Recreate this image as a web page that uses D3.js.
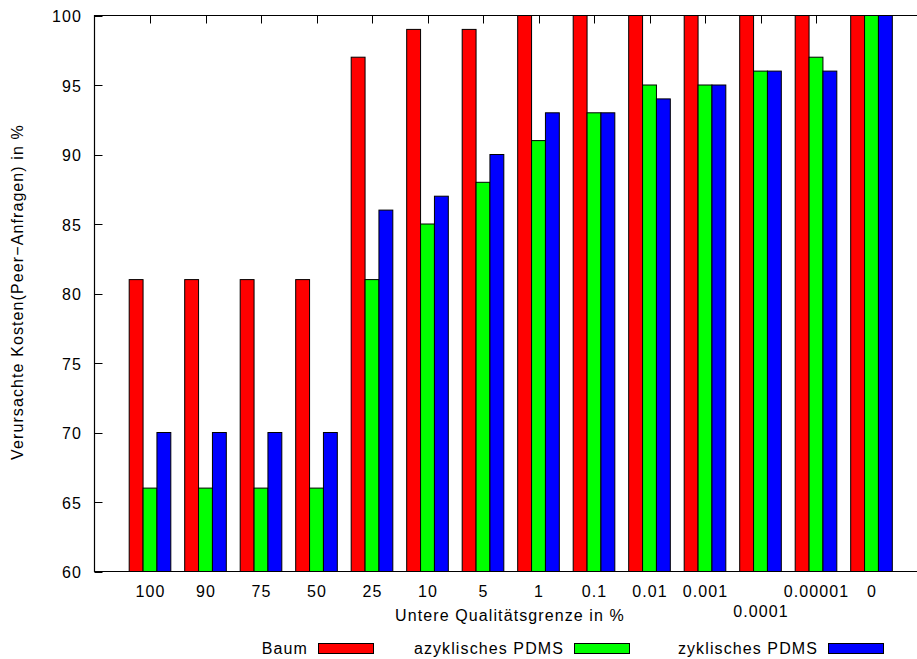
<!DOCTYPE html>
<html>
<head>
<meta charset="utf-8">
<script src="https://d3js.org/d3.v7.min.js"></script>
<style>
  body { margin: 0; background: #fff; }
  svg { display: block; }
  text { font-family: "Liberation Sans", Arial, sans-serif; font-size: 16px; letter-spacing: 1.1px; fill: #000; }
</style>
</head>
<body>
<svg width="917" height="659"></svg>
<script>
// the data
var categories = ["100", "90", "75", "50", "25", "10", "5", "1", "0.1", "0.01", "0.001", "0.0001", "0.00001", "0"];
var baum =        [81, 81, 81, 81, 97, 99, 99, 100, 100, 100, 100, 100, 100, 100];
var azyklisch =   [66, 66, 66, 66, 81, 85, 88, 91, 93, 95, 95, 96, 97, 100];
var zyklisch =    [70, 70, 70, 70, 86, 87, 90, 93, 93, 94, 95, 96, 96, 100];
var seriesNames = ["Baum", "azyklisches PDMS", "zyklisches PDMS"];
var seriesColors = ["#ff0000", "#00ff00", "#0000ff"];
var yTicks = [60, 65, 70, 75, 80, 85, 90, 95, 100];

var series = [baum, azyklisch, zyklisch];

var svg = d3.select("svg");

// plot frame (window.top is taken, so plotTop)
var plotLeft = 94.5, plotTop = 15.5, plotBottom = 571.5;

// x: one unit per category, frame runs from -1 to 14 (right edge is off screen)
var x = d3.scaleLinear().domain([-1, 14]).range([plotLeft, 927]);
var y = d3.scaleLinear().domain([60, 100]).range([plotBottom, plotTop]);

var unit = x(1) - x(0);
var barW = unit / 4; // 3 bars + gap of 1

//////////// TICKS ////////////

var g = svg.append("g");

// y ticks on the left, pointing inward
g.selectAll(".ytick")
  .data(yTicks)
  .enter().append("line")
  .attr("x1", plotLeft).attr("x2", plotLeft + 8)
  .attr("y1", function(d) { return Math.round(y(d)) + 0.5; })
  .attr("y2", function(d) { return Math.round(y(d)) + 0.5; })
  .attr("stroke", "black");

g.selectAll(".ylabel")
  .data(yTicks)
  .enter().append("text")
  .attr("x", 82)
  .attr("y", function(d) { return y(d); })
  .attr("dy", "0.42em")
  .attr("text-anchor", "end")
  .text(function(d) { return d; });

// x ticks at top and bottom (bottom ones get hidden by the bars)
categories.forEach(function(c, i) {
  var cx = Math.round(x(i)) + 0.5;
  g.append("line").attr("x1", cx).attr("x2", cx)
    .attr("y1", plotTop).attr("y2", plotTop + 8).attr("stroke", "black");
  g.append("line").attr("x1", cx).attr("x2", cx)
    .attr("y1", plotBottom).attr("y2", plotBottom - 8).attr("stroke", "black");
});

// x labels, "0.0001" is pushed one line down
g.selectAll(".xlabel")
  .data(categories)
  .enter().append("text")
  .attr("x", function(d, i) { return x(i) + 0.5; })
  .attr("y", function(d) { return d === "0.0001" ? 617 : 597; })
  .attr("text-anchor", "middle")
  .text(function(d) { return d; });

//////////// BARS ////////////

series.forEach(function(vals, k) {
  svg.append("g")
    .selectAll("rect")
    .data(vals)
    .enter().append("rect")
    .attr("x", function(d, i) { return x(i) + (k - 1.5) * barW; })
    .attr("y", function(d) { return y(d); })
    .attr("width", barW)
    .attr("height", function(d) { return y(60) - y(d); })
    .attr("fill", seriesColors[k])
    .attr("stroke", "black")
    .attr("stroke-width", 1);
});

//////////// BORDER ////////////

svg.append("path")
  .attr("d", "M917," + plotTop + "H" + plotLeft + "V" + plotBottom + "H917")
  .attr("fill", "none")
  .attr("stroke", "black")
  .attr("stroke-width", 1.2);

//////////// AXIS TITLES ////////////

svg.append("text")
  .attr("x", 510)
  .attr("y", 621)
  .attr("text-anchor", "middle")
  .text("Untere Qualitätsgrenze in %");

svg.append("text")
  .attr("transform", "translate(23,292) rotate(-90)")
  .attr("text-anchor", "middle")
  .text("Verursachte Kosten(Peer\u2212Anfragen) in %");

//////////// LEGEND ////////////

var legendBoxX = [318, 574, 828];

seriesNames.forEach(function(name, k) {
  var lg = svg.append("g").attr("class", "legend");
  lg.append("text")
    .attr("x", legendBoxX[k] - 10)
    .attr("y", 654)
    .attr("text-anchor", "end")
    .text(name);
  lg.append("rect")
    .attr("x", legendBoxX[k] + 0.5)
    .attr("y", 643.5)
    .attr("width", 55)
    .attr("height", 10)
    .attr("fill", seriesColors[k])
    .attr("stroke", "black");
});
</script>
</body>
</html>
